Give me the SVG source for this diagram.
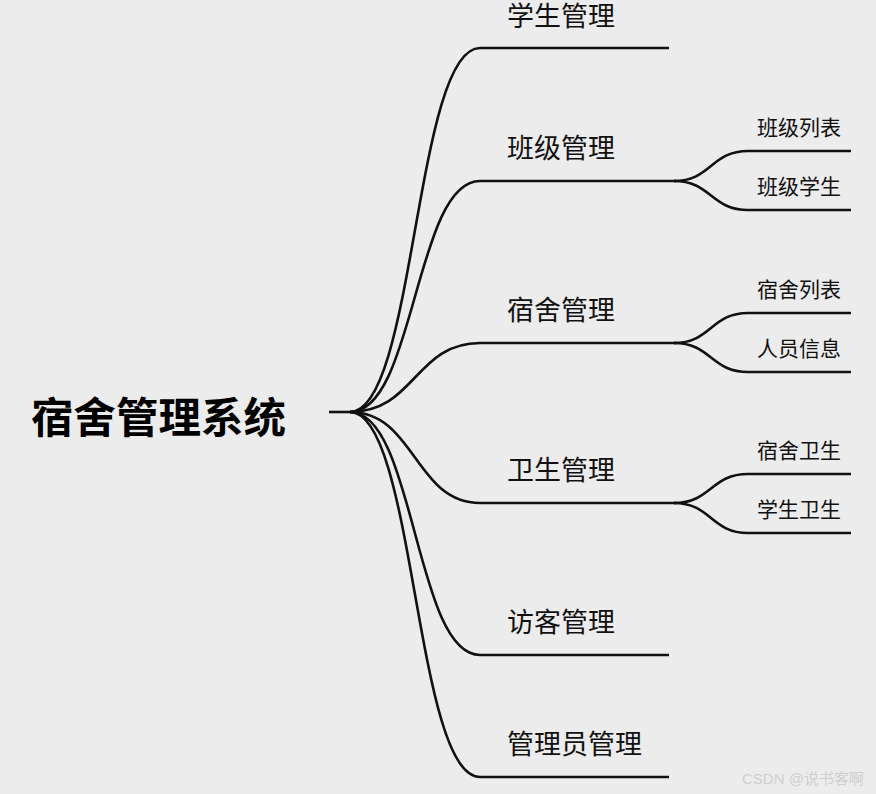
<svg xmlns="http://www.w3.org/2000/svg" width="876" height="794" viewBox="0 0 876 794">
<style>
.c{fill:none;stroke:#111;stroke-width:2.6;stroke-linecap:butt}
.t1{font-family:"Noto Sans CJK SC","Noto Sans",sans-serif;font-size:27px;fill:#111}
.t2{font-family:"Noto Sans CJK SC","Noto Sans",sans-serif;font-size:21px;fill:#111}
.root{font-family:"Noto Sans CJK SC","Noto Sans",sans-serif;font-size:42.5px;font-weight:bold;fill:#000}
</style>
<rect width="876" height="794" fill="#ececec"/>
<g id="connectors">
<path class="c" d="M329 412 H350"/>
<path class="c" d="M350 412 C415 412 415 48 480 48 H669"/>
<path class="c" d="M350 412 C415 412 415 181 480 181 H676"/>
<path class="c" d="M350 412 C415 412 415 343 480 343 H676"/>
<path class="c" d="M350 412 C415 412 415 503 480 503 H676"/>
<path class="c" d="M350 412 C415 412 415 655 480 655 H669"/>
<path class="c" d="M350 412 C415 412 415 777 480 777 H669"/>
<path class="c" d="M674 181 C711 181 711 151 748 151 H851"/>
<path class="c" d="M674 181 C711 181 711 210 748 210 H851"/>
<path class="c" d="M674 343 C711 343 711 313 748 313 H851"/>
<path class="c" d="M674 343 C711 343 711 372 748 372 H851"/>
<path class="c" d="M674 503 C711 503 711 474 748 474 H851"/>
<path class="c" d="M674 503 C711 503 711 533 748 533 H851"/>
</g>
<g id="root"><text class="root" x="31" y="433">宿舍管理系统</text></g>
<g id="n1"><text class="t1" x="507" y="26">学生管理</text></g>
<g id="n2"><text class="t1" x="507" y="158">班级管理</text></g>
<g id="n2a"><text class="t2" x="757" y="135">班级列表</text></g>
<g id="n2b"><text class="t2" x="757" y="194">班级学生</text></g>
<g id="n3"><text class="t1" x="507" y="320">宿舍管理</text></g>
<g id="n3a"><text class="t2" x="757" y="297">宿舍列表</text></g>
<g id="n3b"><text class="t2" x="757" y="356">人员信息</text></g>
<g id="n4"><text class="t1" x="507" y="480">卫生管理</text></g>
<g id="n4a"><text class="t2" x="757" y="458">宿舍卫生</text></g>
<g id="n4b"><text class="t2" x="757" y="517">学生卫生</text></g>
<g id="n5"><text class="t1" x="507" y="632">访客管理</text></g>
<g id="n6"><text class="t1" x="507" y="754">管理员管理</text></g>
<text x="742" y="784" font-family="'Liberation Sans','Noto Sans CJK SC',sans-serif" font-size="15" fill="#cfcfcf">CSDN @说书客啊</text>
</svg>
